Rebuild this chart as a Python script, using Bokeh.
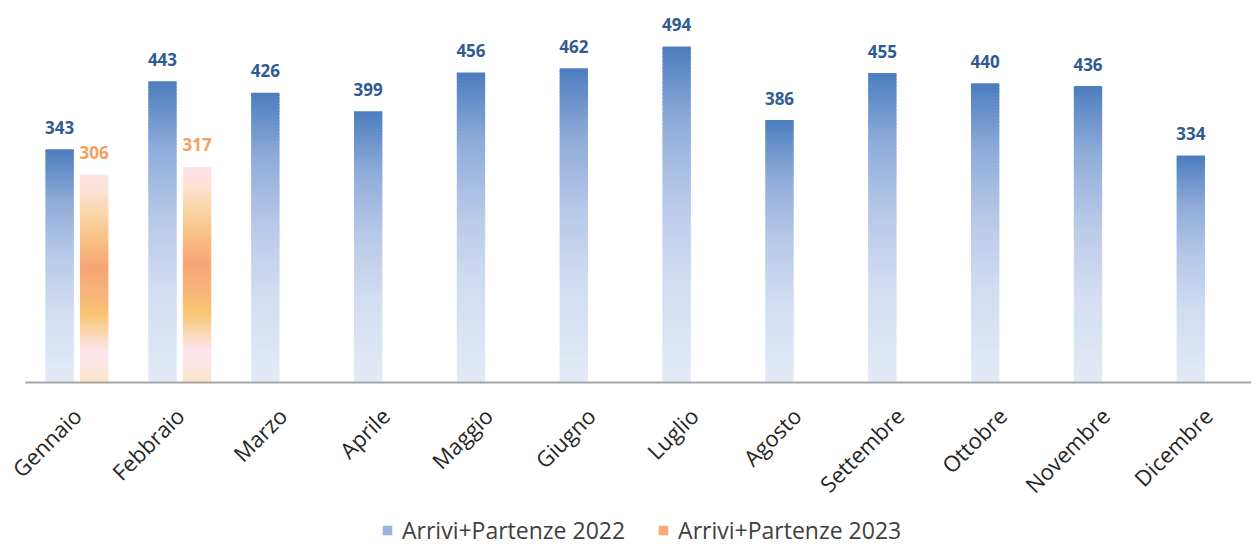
import numpy as np
from bokeh.plotting import figure
from bokeh.layouts import column
from bokeh.models import (Range1d, FixedTicker, Legend, LegendItem,
                          ColumnDataSource, LabelSet)
from bokeh.core.properties import value
from bokeh.embed import file_html
from bokeh.resources import INLINE

months = ["Gennaio", "Febbraio", "Marzo", "Aprile", "Maggio", "Giugno",
          "Luglio", "Agosto", "Settembre", "Ottobre", "Novembre", "Dicembre"]
values_2022 = [343, 443, 426, 399, 456, 462, 494, 386, 455, 440, 436, 334]
values_2023 = [306, 317]
series_names = ["Arrivi+Partenze 2022", "Arrivi+Partenze 2023"]

# gradient stops (fraction of bar height from bottom, colour)
blue_stops = [(0.0, "#E4EAF6"), (0.3, "#D2DDF1"), (0.55, "#B7C8E8"),
              (0.78, "#8EABD9"), (1.0, "#4C7DBE")]
orange_stops = [(0.0, "#FBE6C6"), (0.08, "#FCE6E2"), (0.15, "#FDE5EE"),
                (0.24, "#FAD6AE"), (0.33, "#F8C472"), (0.43, "#F7B47A"),
                (0.55, "#F7A575"), (0.68, "#F8BF84"), (0.8, "#FAD4A4"),
                (0.92, "#FCE2D6"), (1.0, "#FDE4E8")]

BAR_W = 0.275
OFFSET = 0.168
N = 90


def hex2rgb(h):
    return np.array([int(h[i:i + 2], 16) for i in (1, 3, 5)], dtype=float)


def grad(stops, t):
    for (t0, c0), (t1, c1) in zip(stops[:-1], stops[1:]):
        if t <= t1:
            f = (t - t0) / (t1 - t0)
            c = hex2rgb(c0) * (1 - f) + hex2rgb(c1) * f
            return "#%02x%02x%02x" % tuple(int(round(v)) for v in c)
    return stops[-1][1]


def strips(vals, dx, stops):
    d = dict(left=[], right=[], bottom=[], top=[], color=[])
    for i, v in enumerate(vals):
        cx = i + 0.5 + dx
        for k in range(N):
            d["left"].append(cx - BAR_W / 2)
            d["right"].append(cx + BAR_W / 2)
            d["bottom"].append(v * k / N)
            d["top"].append(v * min(k + 1.5, N) / N)
            d["color"].append(grad(stops, (k + 0.5) / N))
    return ColumnDataSource(d)


src1 = strips(values_2022, -OFFSET, blue_stops)
src2 = strips(values_2023, OFFSET, orange_stops)

H_MAIN = 513
p = figure(width=1251, height=H_MAIN, output_backend="svg", toolbar_location=None,
           x_range=Range1d(0, len(months) - 0.078), y_range=Range1d(0, 550),
           min_border_left=25, min_border_right=0, min_border_top=8,
           min_border_bottom=H_MAIN - 382)
p.outline_line_color = None
p.grid.visible = False
p.yaxis.visible = False

p.quad(left="left", right="right", bottom="bottom", top="top",
       fill_color="color", line_color=None, source=src1)
p.quad(left="left", right="right", bottom="bottom", top="top",
       fill_color="color", line_color=None, source=src2)

# labels
lab1 = ColumnDataSource(dict(x=[i + 0.5 - OFFSET for i in range(len(values_2022))],
                             y=values_2022, t=[str(v) for v in values_2022]))
lab2 = ColumnDataSource(dict(x=[i + 0.5 + OFFSET for i in range(len(values_2023))],
                             y=values_2023, t=[str(v) for v in values_2023]))
for src, col in ((lab1, "#2F5A93"), (lab2, "#F5A05A")):
    p.add_layout(LabelSet(x="x", y="y", text="t", source=src, y_offset=22,
                          text_align="center", text_baseline="middle",
                          text_font=value("Open Sans"), text_font_style="bold",
                          text_font_size="17px", text_color=col))

# axis
p.xaxis.ticker = FixedTicker(ticks=[i + 0.5 for i in range(len(months))])
p.xaxis.major_label_overrides = {i + 0.5: m for i, m in enumerate(months)}
p.xaxis.major_label_orientation = np.pi / 4
p.xaxis.major_label_text_font = "Open Sans"
p.xaxis.major_label_text_font_size = "22px"
p.xaxis.major_label_text_color = "#262626"
p.xaxis.major_label_standoff = 23
p.xaxis.major_tick_line_color = None
p.xaxis.minor_tick_line_color = None
p.xaxis.axis_line_color = "#A6A6A6"
p.xaxis.axis_line_width = 2

# legend strip: a separate small figure whose ranges show none of the bars
H_LEG = 546 - H_MAIN
lf = figure(width=1251, height=H_LEG, output_backend="svg", toolbar_location=None,
            x_range=Range1d(0, 1), y_range=Range1d(-2, -1),
            min_border=0)
lf.outline_line_color = None
lf.grid.visible = False
lf.axis.visible = False
l1 = lf.quad(left="left", right="right", bottom="bottom", top="top",
             fill_color="color", line_color=None, source=src1)
l2 = lf.quad(left="left", right="right", bottom="bottom", top="top",
             fill_color="color", line_color=None, source=src2)
legend = Legend(items=[LegendItem(label=series_names[0], renderers=[l1], index=int(0.72 * N)),
                       LegendItem(label=series_names[1], renderers=[l2], index=int(0.5 * N))],
                orientation="horizontal", location=(356, 0),
                label_text_font="Open Sans", label_text_font_size="23px",
                label_text_color="#404040", glyph_width=12, glyph_height=12,
                spacing=32, border_line_color=None, background_fill_alpha=0,
                margin=0, padding=0, label_standoff=9)
lf.add_layout(legend, "center")

open("out.html", "w").write(file_html(column(p, lf), INLINE))
